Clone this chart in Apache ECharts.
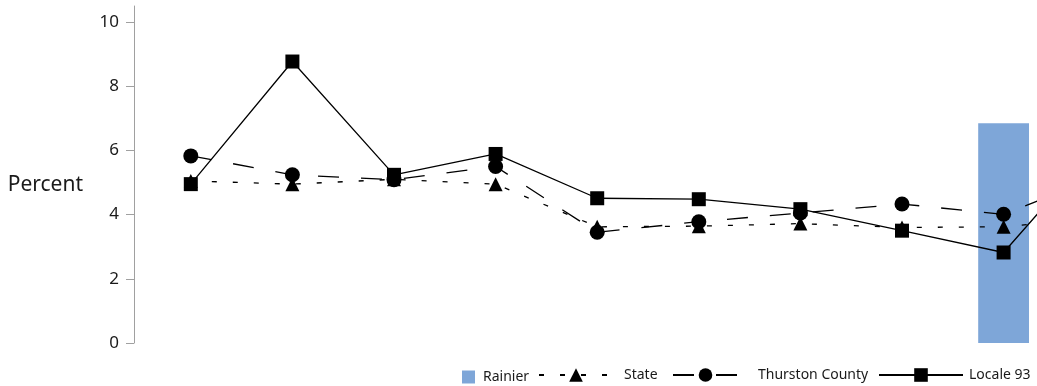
<!DOCTYPE html>
<html>
<head>
<meta charset="utf-8">
<script src="https://cdn.jsdelivr.net/npm/echarts@6/dist/echarts.min.js"></script>
<style>
  html, body { margin: 0; padding: 0; background: #fff; overflow: hidden; }
  #wrap { width: 1037px; height: 386px; overflow: hidden; }
  #chart { width: 1200px; height: 386px; }
</style>
</head>
<body>
<div id="wrap"><div id="chart"></div></div>
<script>
// categories (no axis labels shown in the picture; the last one lies past the right edge)
const categories = ['1', '2', '3', '4', '5', '6', '7', '8', '9', '10'];
const yTicks = [0, 2, 4, 6, 8, 10];

// values
const rainier = [null, null, null, null, null, null, null, null, 6.85, null];
const state = [5.05, 4.95, 5.1, 4.95, 3.62, 3.64, 3.72, 3.6, 3.62, 3.92];
const thurston = [5.83, 5.24, 5.09, 5.5, 3.45, 3.78, 4.05, 4.33, 4.01, 5.25];
const locale93 = [4.95, 8.77, 5.24, 5.89, 4.51, 4.48, 4.17, 3.5, 2.82, 6.42];

const chart = echarts.init(document.getElementById('chart'));

const font = 'Noto Sans';
const legendTop = 368;

// one legend per item so each can sit where it does in the picture
const mkLegend = (name, left, width, height, padLeft, icon) => ({
  data: [name],
  left: left,
  top: legendTop + (17 - height) / 2,
  orient: 'horizontal',
  padding: 0,
  itemWidth: width,
  itemHeight: height,
  icon: icon,
  selectedMode: false,
  textStyle: { fontFamily: font, fontSize: 14, color: '#1a1a1a', padding: [0, 0, 0, padLeft] }
});

const option = {
  animation: false,
  grid: { left: 140, right: 44, top: 6, bottom: 43 },
  legend: [
    mkLegend('Rainier', 462, 13, 13, 3, 'rect'),
    mkLegend('State', 538, 74, 17, 6),
    mkLegend('Thurston County', 672, 65, 17, 15),
    mkLegend('Locale 93', 878, 84, 17, 1)
  ],
  xAxis: {
    type: 'category',
    data: categories,
    boundaryGap: true,
    axisLine: { show: false },
    axisTick: { show: false },
    axisLabel: { show: false }
  },
  yAxis: {
    type: 'value',
    min: 0,
    max: 10.5,
    interval: 2,
    offset: 6,
    name: 'Percent',
    nameLocation: 'middle',
    nameRotate: 0,
    nameGap: 51,
    nameTextStyle: { fontFamily: font, fontSize: 21, color: '#1a1a1a', align: 'right', verticalAlign: 'top' },
    axisLine: { show: true, lineStyle: { color: '#a0a0a0', width: 1 } },
    axisTick: { show: true, inside: false, length: 8, customValues: yTicks, lineStyle: { color: '#a0a0a0' } },
    axisLabel: { customValues: yTicks, margin: 15, fontFamily: font, fontSize: 17, color: '#1a1a1a' },
    splitLine: { show: false }
  },
  series: [
    {
      name: 'Rainier',
      type: 'bar',
      data: rainier,
      barWidth: '50%',
      itemStyle: { color: '#7ea6d8' }
    },
    {
      name: 'State',
      type: 'line',
      data: state,
      symbol: 'triangle',
      symbolSize: 14,
      showAllSymbol: true,
      itemStyle: { color: '#000' },
      lineStyle: { color: '#000', width: 1.3, type: [5, 16] }
    },
    {
      name: 'Thurston County',
      type: 'line',
      data: thurston,
      symbol: 'circle',
      symbolSize: 15,
      showAllSymbol: true,
      itemStyle: { color: '#000' },
      lineStyle: { color: '#000', width: 1.3, type: [21, 22] }
    },
    {
      name: 'Locale 93',
      type: 'line',
      data: locale93,
      symbol: 'rect',
      symbolSize: 14,
      showAllSymbol: true,
      itemStyle: { color: '#000' },
      lineStyle: { color: '#000', width: 1.3, type: 'solid' }
    }
  ]
};

chart.setOption(option);
</script>
</body>
</html>
